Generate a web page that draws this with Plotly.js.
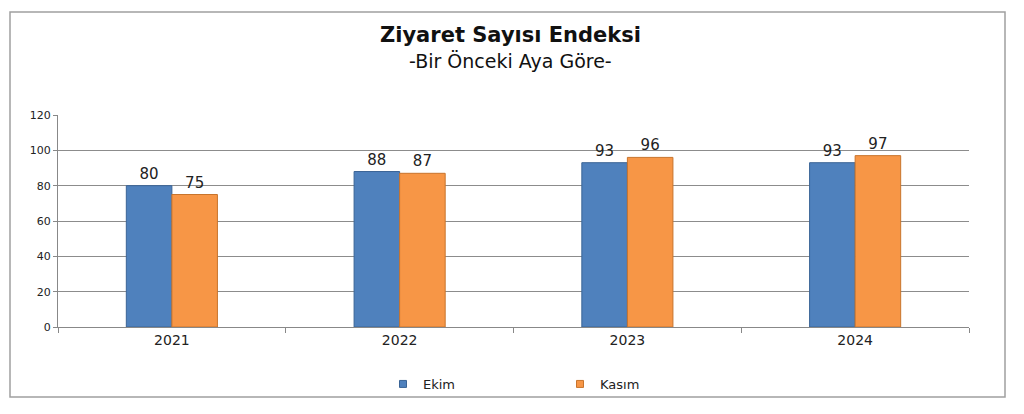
<!DOCTYPE html>
<html><head><meta charset="utf-8">
<script src="https://cdn.plot.ly/plotly-3.0.1.min.js"></script>
<style>html,body{margin:0;padding:0;background:#fff}#chart{width:1024px;height:414px}</style>
</head><body><div id="chart"></div>
<script>
const years = ["2021", "2022", "2023", "2024"];
const ekim = [80, 88, 93, 93];
const kasim = [75, 87, 96, 97];
const seriesNames = ["Ekim", "Kasım"];
const titleText = "Ziyaret Sayısı Endeksi";
const subtitleText = "-Bir Önceki Aya Göre-";

const W = 1024, H = 414;
const m = {l: 58, r: 55, t: 115, b: 87};
const pw = W - m.l - m.r, ph = H - m.t - m.b;
const px = x => (x - m.l) / pw;
const py = y => (H - m.b - y) / ph;

const colors = ["#4F81BD", "#F79646"];
const lineColors = ["#3A6496", "#C8742C"];
const labelFont = {family: "DejaVu Sans", size: 15, color: "#222"};

const traces = [
  {type: "bar", name: seriesNames[0], x: years, y: ekim, text: ekim.map(String),
   textposition: "outside", cliponaxis: false, textfont: labelFont, showlegend: false,
   marker: {color: colors[0], line: {color: lineColors[0], width: 1}}},
  {type: "bar", name: seriesNames[1], x: years, y: kasim, text: kasim.map(String),
   textposition: "outside", cliponaxis: false, textfont: labelFont, showlegend: false,
   marker: {color: colors[1], line: {color: lineColors[1], width: 1}}},
  // legend entries with small square swatches
  {type: "scatter", mode: "markers", name: seriesNames[0], x: [null], y: [null],
   marker: {symbol: "square", size: 7, color: colors[0], line: {color: lineColors[0], width: 1}}},
  {type: "scatter", mode: "markers", name: seriesNames[1], x: [null], y: [null],
   marker: {symbol: "square", size: 7, color: colors[1], line: {color: lineColors[1], width: 1}}}
];

const layout = {
  width: W, height: H,
  margin: m,
  paper_bgcolor: "#fff", plot_bgcolor: "#fff",
  font: {family: "DejaVu Sans", color: "#222"},
  barmode: "group", bargap: 0.6, bargroupgap: 0,
  showlegend: true,
  legend: {orientation: "h", x: px(383), xanchor: "left", xref: "paper",
           y: py(384), yanchor: "middle", entrywidth: 132, entrywidthmode: "pixels",
           bgcolor: "rgba(0,0,0,0)", itemwidth: 30,
           font: {family: "DejaVu Sans", size: 13, color: "#222"},
           traceorder: "normal"},
  xaxis: {type: "category", tickson: "boundaries", ticks: "outside", ticklen: 5,
          tickcolor: "#888", showline: true, linecolor: "#888", linewidth: 1,
          showgrid: false, tickfont: {family: "DejaVu Sans", size: 14, color: "#222"}},
  yaxis: {range: [0, 120], dtick: 20, ticks: "outside", ticklen: 4, tickcolor: "#888",
          showline: true, linecolor: "#888", linewidth: 1,
          showgrid: true, gridcolor: "#8c8c8c", gridwidth: 1, zeroline: false,
          tickfont: {family: "DejaVu Sans", size: 11, color: "#222"}},
  shapes: [{type: "rect", xref: "paper", yref: "paper",
            x0: px(10), x1: px(1005), y0: py(397), y1: py(12),
            line: {color: "#a0a0a0", width: 1.5}, fillcolor: "rgba(0,0,0,0)"}],
  annotations: [
    {text: "<b>" + titleText + "</b>", xref: "paper", yref: "paper",
     x: px(510), y: py(35), xanchor: "center", yanchor: "middle", showarrow: false,
     font: {family: "DejaVu Sans", size: 21, color: "#111"}},
    {text: subtitleText, xref: "paper", yref: "paper",
     x: px(510), y: py(61), xanchor: "center", yanchor: "middle", showarrow: false,
     font: {family: "DejaVu Sans", size: 19, color: "#111"}}
  ]
};

Plotly.newPlot("chart", traces, layout, {displayModeBar: false, staticPlot: true});
</script></body></html>
